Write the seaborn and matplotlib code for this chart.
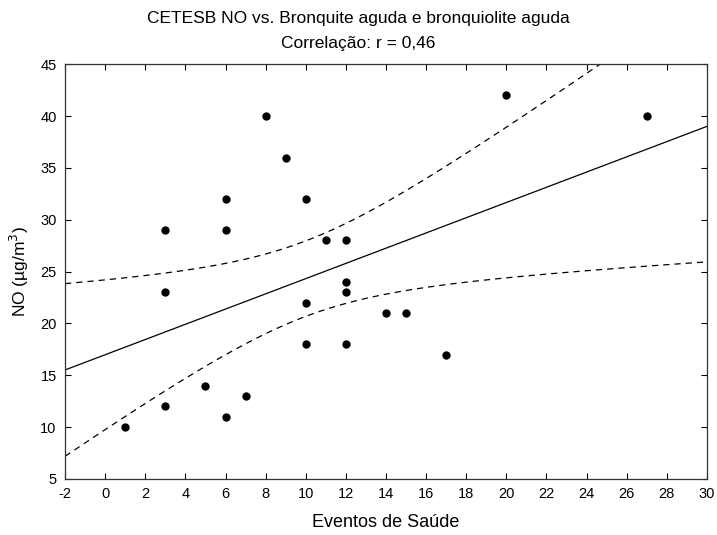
import numpy as np
import pandas as pd
import seaborn as sns
import matplotlib
matplotlib.use("Agg")
import matplotlib.pyplot as plt

# eventos de saude (x) vs NO (y)
eventos = [8, 9, 6, 10, 3, 6, 11, 12, 3, 10, 12, 12,
           10, 12, 5, 3, 7, 6, 1, 20, 27, 14, 15, 17]
no_vals = [40, 36, 32, 32, 29, 29, 28, 28, 23, 22, 24, 23,
           18, 18, 14, 12, 13, 11, 10, 42, 40, 21, 21, 17]
x_ticks = list(range(-2, 31, 2))
y_ticks = list(range(5, 46, 5))

df = pd.DataFrame({"eventos": eventos, "no": no_vals})

sns.set_style("ticks")
plt.rcParams["font.family"] = ["Liberation Sans", "DejaVu Sans"]
plt.rcParams["axes.unicode_minus"] = False
plt.rcParams["text.color"] = "black"
plt.rcParams["axes.labelcolor"] = "black"

fig = plt.figure(figsize=(7.17, 5.35), dpi=100)
ax = fig.add_axes([0.0907, 0.1047, 0.8953, 0.7753])
ax.set_xlim(-2, 30)
ax.set_ylim(5, 45)

sns.regplot(data=df, x="eventos", y="no", ci=None, truncate=False, ax=ax,
            scatter_kws={"s": 36, "color": "black", "alpha": 1,
                         "linewidths": 0, "zorder": 3},
            line_kws={"color": "black", "lw": 0.9})

# 95% confidence band of the fitted mean (dashed lines)
x = np.asarray(eventos, float)
y = np.asarray(no_vals, float)
n = len(x)
b, a = np.polyfit(x, y, 1)
resid = y - (a + b * x)
s = np.sqrt((resid ** 2).sum() / (n - 2))
sxx = ((x - x.mean()) ** 2).sum()
t = 2.074  # t(0.975, 22)
xs = np.linspace(-2, 30, 200)
se = s * np.sqrt(1 / n + (xs - x.mean()) ** 2 / sxx)
fit = a + b * xs
for band in (fit + t * se, fit - t * se):
    ax.plot(xs, band, color="black", lw=0.9, ls=(0, (5, 4)))

ax.set_xticks(x_ticks)
ax.set_yticks(y_ticks)
ax.tick_params(direction="in", top=True, right=True, length=4, width=0.8,
               labelsize=10.5, colors="black", pad=6)
for sp in ax.spines.values():
    sp.set_linewidth(0.9)
    sp.set_color("#333333")

ax.set_xlabel("Eventos de Saúde", fontsize=13, labelpad=9)
ax.set_ylabel("NO (µg/m$^3$)", fontsize=12.5, labelpad=7)
fig.text(0.5, 0.965, "CETESB NO vs. Bronquite aguda e bronquiolite aguda",
         ha="center", va="center", fontsize=12.5)
fig.text(0.5, 0.919, "Correlação: r = 0,46", ha="center", va="center", fontsize=12.5)

fig.savefig("out.png", dpi=100)
